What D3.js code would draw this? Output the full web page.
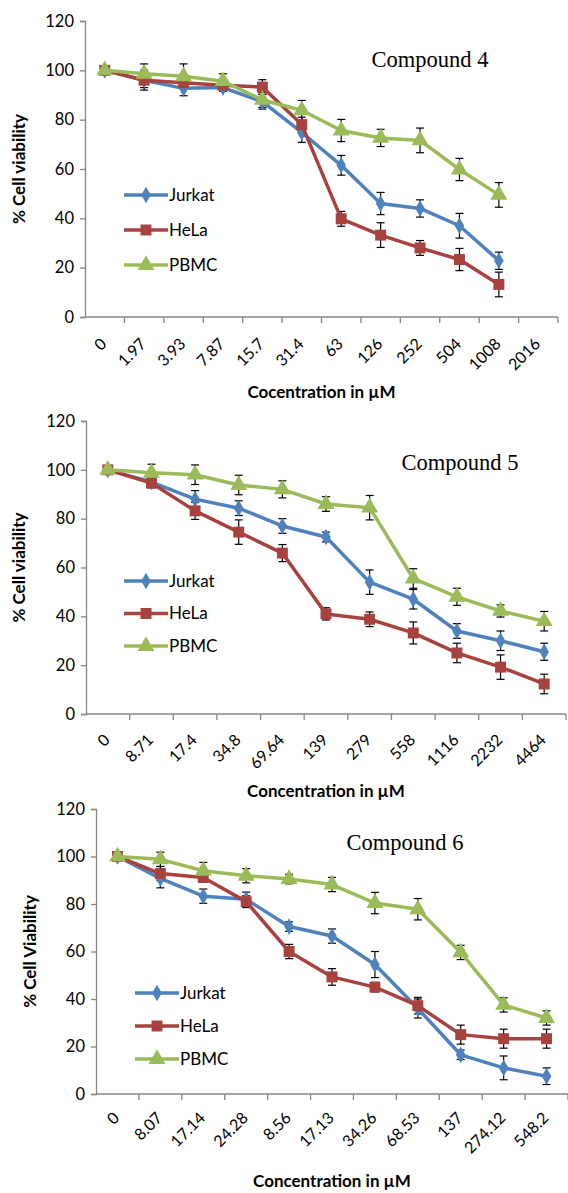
<!DOCTYPE html>
<html>
<head>
<meta charset="utf-8">
<script src="https://cdn.jsdelivr.net/npm/d3@7"></script>
<style>
  body { margin: 0; background: #fff; }
  svg { display: block; }
</style>
</head>
<body>
<div id="chart"></div>
<script>
// three dose-response panels, Excel style

const series = ["Jurkat", "HeLa", "PBMC"];
const colors = ["#4F81BD", "#A8423F", "#9BBB59"];
const yTicks = [0, 20, 40, 60, 80, 100, 120];

// Compound 4
const conc4 = ["0", "1.97", "3.93", "7.87", "15.7", "31.4", "63", "126", "252", "504", "1008", "2016"];
const jurkat4 = [100, 96, 92.7, 93, 87.3, 74.8, 61.5, 46, 44, 37, 22.8];
const hela4 = [100, 96, 95, 94, 93.2, 78, 39.8, 33.2, 28, 23.3, 13.2];
const pbmc4 = [100, 98.6, 97.6, 95.6, 88, 83.8, 75.6, 72.6, 71.6, 59.8, 49.5];
const jurkat4Err = [0, 4, 3, 1.5, 3, 4, 4, 4.5, 3.5, 5, 3.5];
const hela4Err = [0, 3, 2, 1.5, 3, 3, 3, 5, 3, 4.5, 5];
const pbmc4Err = [0, 4, 5, 3, 3, 4, 4.5, 3.5, 5, 4.5, 5];

// Compound 5
const conc5 = ["0", "8.71", "17.4", "34.8", "69.64", "139", "279", "558", "1116", "2232", "4464"];
const jurkat5 = [100, 95, 88, 84.3, 77, 72.5, 54, 47, 34, 30, 25.5];
const hela5 = [100, 94.6, 83.2, 74.5, 65.9, 41, 38.8, 33.2, 25, 19.2, 12.3];
const pbmc5 = [100, 98.8, 98, 93.8, 92, 86, 84.5, 55.5, 48, 42.2, 38];
const jurkat5Err = [0, 1, 3.5, 3, 3, 2, 5, 4, 3, 4, 3.5];
const hela5Err = [0, 2, 3.5, 5, 3.5, 2.5, 3, 4.5, 4, 5, 4];
const pbmc5Err = [0, 3.5, 4, 4, 3.5, 3, 5, 4, 3.5, 2.5, 4];

// Compound 6
const conc6 = ["0", "8.07", "17.14", "24.28", "8.56", "17.13", "34.26", "68.53", "137", "274.12", "548.2"];
const jurkat6 = [100, 90.8, 83.3, 82, 70.5, 66.5, 54.5, 36, 16.5, 11, 7.5];
const hela6 = [100, 92.8, 91.2, 81, 60, 49.3, 45, 37.2, 25, 23.3, 23.3];
const pbmc6 = [100, 98.8, 94, 91.9, 90.5, 88.2, 80.4, 77.8, 59.6, 37.5, 32];
const jurkat6Err = [0, 4, 3, 3, 2, 3, 5.5, 4, 2, 5, 3.5];
const hela6Err = [0, 3, 2, 2.5, 3, 3.5, 2, 3.5, 4, 4, 4];
const pbmc6Err = [0, 3, 3.5, 3, 2, 3, 4.5, 4.5, 3, 3, 3];

const W = 568, H = 1193;
const tickFont = "Lato, 'Open Sans', sans-serif";

const svg = d3.select("#chart").append("svg")
    .attr("width", W)
    .attr("height", H);

const panels = [
    {
        title: "Compound 4", cats: conc4,
        values: [jurkat4, hela4, pbmc4], errs: [jurkat4Err, hela4Err, pbmc4Err],
        x0: 85, x1: 558, yTop: 21, yBottom: 317,
        yLabel: "% Cell viability", yLabelX: 19,
        xLabel: "Cocentration in µM", xLabelY: 398, tickLabelDy: 24,
        titleX: 430, titleY: 67,
        legendX: 124, legendY: 195, legendGap: 35
    },
    {
        title: "Compound 5", cats: conc5,
        values: [jurkat5, hela5, pbmc5], errs: [jurkat5Err, hela5Err, pbmc5Err],
        x0: 86, x1: 566, yTop: 421, yBottom: 714,
        yLabel: "% Cell viability", yLabelX: 19,
        xLabel: "Concentration in µM", xLabelY: 797, tickLabelDy: 23,
        titleX: 460, titleY: 470,
        legendX: 124, legendY: 581, legendGap: 32.5
    },
    {
        title: "Compound 6", cats: conc6,
        values: [jurkat6, hela6, pbmc6], errs: [jurkat6Err, hela6Err, pbmc6Err],
        x0: 96, x1: 568, yTop: 809, yBottom: 1094,
        yLabel: "% Cell Viability", yLabelX: 30,
        xLabel: "Concentration in µM", xLabelY: 1187, tickLabelDy: 21,
        titleX: 405, titleY: 850,
        legendX: 135, legendY: 993, legendGap: 33
    }
];

const markerShapes = [d3.symbolDiamond, d3.symbolSquare, d3.symbolTriangle];
const markerSizes = [80, 120, 125];

function drawPanel(p) {
    const g = svg.append("g");

    const x = d3.scaleBand()
        .domain(p.cats)
        .range([p.x0, p.x1]);

    const y = d3.scaleLinear()
        .domain([0, 120])
        .range([p.yBottom, p.yTop]);

    // y axis
    const yAxis = g.append("g")
        .attr("transform", `translate(${p.x0},0)`)
        .call(d3.axisLeft(y).tickValues(yTicks).tickSize(5).tickPadding(6));
    yAxis.select(".domain").attr("stroke", "#868686").attr("stroke-width", 1.3);
    yAxis.selectAll(".tick line").attr("stroke", "#868686").attr("stroke-width", 1.3);
    yAxis.selectAll(".tick text")
        .style("font-family", tickFont)
        .style("font-size", "16.5px")
        .attr("fill", "#000");

    // x axis, ticks on band edges
    const xAxis = g.append("g")
        .attr("transform", `translate(0,${p.yBottom})`);
    xAxis.append("line")
        .attr("x1", p.x0).attr("x2", p.x1)
        .attr("stroke", "#868686").attr("stroke-width", 1.3);
    xAxis.selectAll(".xtick")
        .data(p.cats)
        .join("line")
        .attr("class", "xtick")
        .attr("x1", d => x(d) + x.bandwidth())
        .attr("x2", d => x(d) + x.bandwidth())
        .attr("y1", 0).attr("y2", 6)
        .attr("stroke", "#868686").attr("stroke-width", 1.3);
    xAxis.selectAll(".xlab")
        .data(p.cats)
        .join("text")
        .attr("class", "xlab")
        .attr("transform", d => `translate(${x(d) + x.bandwidth() / 2 - 1},${p.tickLabelDy}) rotate(-45)`)
        .attr("text-anchor", "end")
        .attr("dy", "0.35em")
        .style("font-family", tickFont)
        .style("font-size", "16px")
        .text(d => d);

    // axis titles
    g.append("text")
        .attr("transform", `translate(${p.yLabelX},${(p.yTop + p.yBottom) / 2}) rotate(-90)`)
        .attr("text-anchor", "middle")
        .attr("dy", "0.35em")
        .style("font-family", tickFont)
        .style("font-weight", "bold")
        .style("font-size", "17px")
        .text(p.yLabel);

    g.append("text")
        .attr("x", (p.x0 + p.x1) / 2)
        .attr("y", p.xLabelY)
        .attr("text-anchor", "middle")
        .style("font-family", tickFont)
        .style("font-weight", "bold")
        .style("font-size", "17px")
        .text(p.xLabel);

    g.append("text")
        .attr("x", p.titleX)
        .attr("y", p.titleY)
        .attr("text-anchor", "middle")
        .style("font-family", "'Liberation Serif', 'DejaVu Serif', serif")
        .style("font-size", "22.5px")
        .text(p.title);

    const cx = i => x(p.cats[i]) + x.bandwidth() / 2;

    // error bars first, lines and markers on top
    p.values.forEach((vals, s) => {
        const errs = p.errs[s];
        const eb = g.append("g");
        vals.forEach((v, i) => {
            if (!errs[i]) return;
            const xc = cx(i);
            eb.append("line")
                .attr("x1", xc).attr("x2", xc)
                .attr("y1", y(v - errs[i])).attr("y2", y(v + errs[i]))
                .attr("stroke", "#000").attr("stroke-width", 1.2);
            [v - errs[i], v + errs[i]].forEach(e => {
                eb.append("line")
                    .attr("x1", xc - 4).attr("x2", xc + 4)
                    .attr("y1", y(e)).attr("y2", y(e))
                    .attr("stroke", "#000").attr("stroke-width", 1.2);
            });
        });
    });

    p.values.forEach((vals, s) => {
        const line = d3.line()
            .x((d, i) => cx(i))
            .y(d => y(d));

        g.append("path")
            .datum(vals)
            .attr("fill", "none")
            .attr("stroke", colors[s])
            .attr("stroke-width", 3.5)
            .attr("stroke-linejoin", "round")
            .attr("d", line);

        g.selectAll(".m" + s)
            .data(vals)
            .join("path")
            .attr("class", "m" + s)
            .attr("transform", (d, i) => `translate(${cx(i)},${y(d)})`)
            .attr("d", d3.symbol().type(markerShapes[s]).size(markerSizes[s]))
            .attr("fill", colors[s]);
    });

    // legend
    series.forEach((name, s) => {
        const ly = p.legendY + s * p.legendGap;
        g.append("line")
            .attr("x1", p.legendX).attr("x2", p.legendX + 44)
            .attr("y1", ly).attr("y2", ly)
            .attr("stroke", colors[s]).attr("stroke-width", 3.5);
        g.append("path")
            .attr("transform", `translate(${p.legendX + 22},${ly})`)
            .attr("d", d3.symbol().type(markerShapes[s]).size(markerSizes[s]))
            .attr("fill", colors[s]);
        g.append("text")
            .attr("x", p.legendX + 45)
            .attr("y", ly)
            .attr("dy", "0.35em")
            .style("font-family", tickFont)
            .style("font-size", "17px")
            .text(name);
    });
}

panels.forEach(drawPanel);
</script>
</body>
</html>
